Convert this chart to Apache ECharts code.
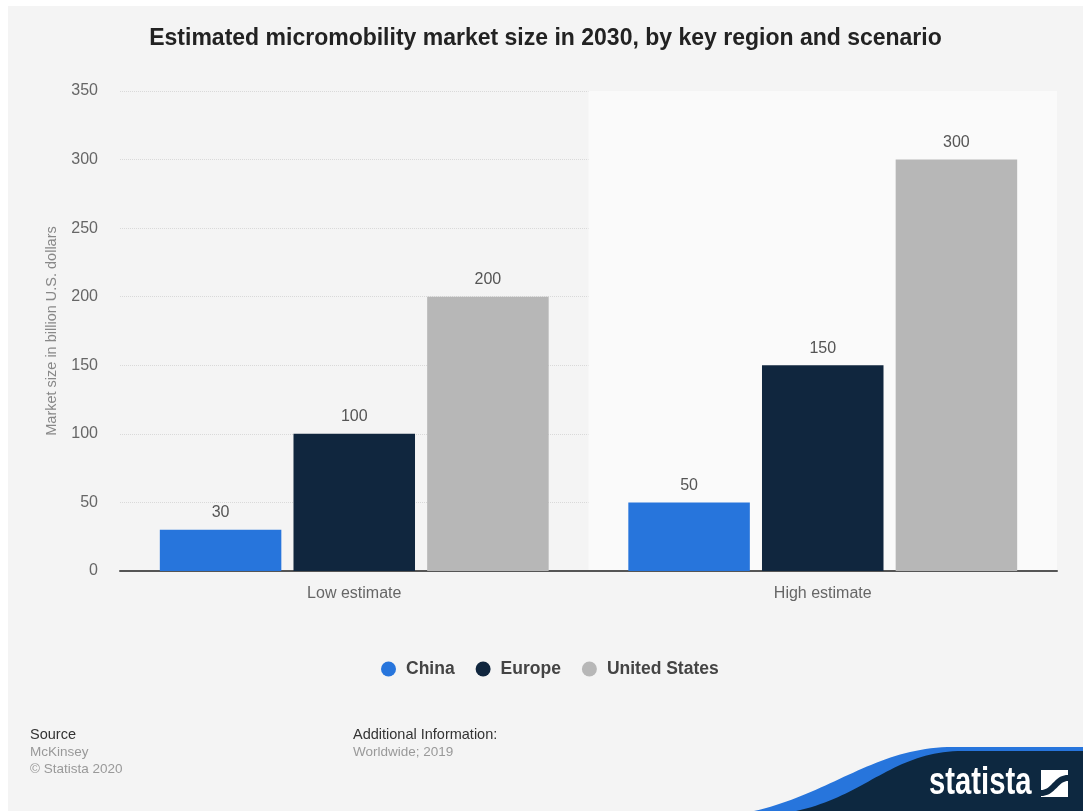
<!DOCTYPE html>
<html>
<head>
<meta charset="utf-8">
<script src="https://cdn.jsdelivr.net/npm/echarts@6/dist/echarts.min.js"></script>
<style>
  html, body { margin: 0; padding: 0; background: #ffffff; }
  #chart { position: absolute; left: 8px; top: 6px; width: 1075px; height: 805px; }
</style>
</head>
<body>
<div id="chart"></div>
<script>
const categories = ['Low estimate', 'High estimate'];
const seriesNames = ['China', 'Europe', 'United States'];
const chinaValues = [30, 50];
const europeValues = [100, 150];
const usValues = [200, 300];
const yTicks = { min: 0, max: 350, interval: 50 };
const colors = ['#2775dc', '#10263e', '#b7b7b7'];

const FONT = '"Liberation Sans", Arial, Helvetica, sans-serif';
const chart = echarts.init(document.getElementById('chart'), null, { renderer: 'canvas' });

// decoration helper: sample a cubic bezier into polygon points
function bez(p0, p1, p2, p3, n) {
  const pts = [];
  for (let i = 0; i <= n; i++) {
    const t = i / n, u = 1 - t;
    pts.push([
      u*u*u*p0[0] + 3*u*u*t*p1[0] + 3*u*t*t*p2[0] + t*t*t*p3[0],
      u*u*u*p0[1] + 3*u*u*t*p1[1] + 3*u*t*t*p2[1] + t*t*t*p3[1]
    ]);
  }
  return pts;
}
const bluePts = bez([746, 805], [822, 788], [868, 741], [945, 741], 40).concat([[1075, 741], [1075, 805]]);
const navyPts = bez([788, 805], [858, 790], [885, 745], [955, 745], 40).concat([[1075, 745], [1075, 805]]);
const iconBand = bez([1033, 784], [1044, 784], [1046, 769], [1060, 769], 20)
  .concat(bez([1060, 775], [1050, 775], [1047, 790], [1033, 790], 20));

const seriesData = [chinaValues, europeValues, usValues];
const series = seriesNames.map((name, i) => ({
  name: name,
  type: 'bar',
  data: seriesData[i],
  barGap: '10%',
  barCategoryGap: '17%',
  itemStyle: { color: colors[i] },
  label: {
    show: true,
    position: 'top',
    distance: 9,
    color: '#555555',
    fontSize: 16,
    fontFamily: FONT
  }
}));

const option = {
  backgroundColor: '#f4f4f4',
  animation: false,
  title: {
    text: 'Estimated micromobility market size in 2030, by key region and scenario',
    left: 'center',
    top: 16,
    textStyle: { fontFamily: FONT, fontWeight: 'bold', fontSize: 23, color: '#222222' }
  },
  color: colors,
  legend: {
    data: seriesNames,
    left: 368,
    top: 649,
    icon: 'circle',
    itemWidth: 15,
    itemHeight: 15,
    itemGap: 21,
    textStyle: { fontFamily: FONT, fontWeight: 'bold', fontSize: 17.5, color: '#444444', padding: [0, 0, 0, 5] }
  },
  grid: { left: 112, top: 85, width: 937, height: 480, containLabel: false },
  xAxis: {
    type: 'category',
    data: categories,
    axisLine: { show: true, lineStyle: { color: '#555555', width: 2 } },
    axisTick: { show: false },
    axisLabel: { margin: 15, fontSize: 16, color: '#666666', fontFamily: FONT },
    splitArea: { show: true, areaStyle: { color: ['rgba(0,0,0,0)', '#fafafa'] } }
  },
  yAxis: {
    type: 'value',
    min: yTicks.min,
    max: yTicks.max,
    interval: yTicks.interval,
    name: 'Market size in billion U.S. dollars',
    nameLocation: 'middle',
    nameGap: 61,
    nameTextStyle: { fontSize: 14.5, color: '#888888', fontFamily: FONT },
    axisLine: { show: false },
    axisTick: { show: false },
    axisLabel: { margin: 22, fontSize: 16, color: '#666666', fontFamily: FONT },
    splitLine: { show: true, lineStyle: { color: '#d9d9d9', type: 'dotted', width: 1 } }
  },
  series: series,
  graphic: [
    { type: 'text', x: 22, y: 729, style: { text: 'Source', font: '14.5px ' + FONT, fill: '#333333', verticalAlign: 'middle' } },
    { type: 'text', x: 22, y: 746, style: { text: 'McKinsey', font: '13.5px ' + FONT, fill: '#999999', verticalAlign: 'middle' } },
    { type: 'text', x: 22, y: 763, style: { text: '© Statista 2020', font: '13.5px ' + FONT, fill: '#999999', verticalAlign: 'middle' } },
    { type: 'text', x: 345, y: 729, style: { text: 'Additional Information:', font: '14.5px ' + FONT, fill: '#333333', verticalAlign: 'middle' } },
    { type: 'text', x: 345, y: 746, style: { text: 'Worldwide; 2019', font: '13.5px ' + FONT, fill: '#999999', verticalAlign: 'middle' } },
    { type: 'polygon', z: 50, shape: { points: bluePts }, style: { fill: '#2775dc' } },
    { type: 'polygon', z: 51, shape: { points: navyPts }, style: { fill: '#0d2840' } },
    {
      type: 'text', z: 52, x: 921, y: 778, scaleX: 0.77,
      style: { text: 'statista', font: 'bold 38px ' + FONT, fill: '#ffffff', verticalAlign: 'middle' }
    },
    { type: 'rect', z: 52, shape: { x: 1033, y: 764, width: 27, height: 27 }, style: { fill: '#ffffff' } },
    { type: 'polygon', z: 53, shape: { points: iconBand }, style: { fill: '#0d2840' } }
  ]
};
chart.setOption(option);
</script>
</body>
</html>
